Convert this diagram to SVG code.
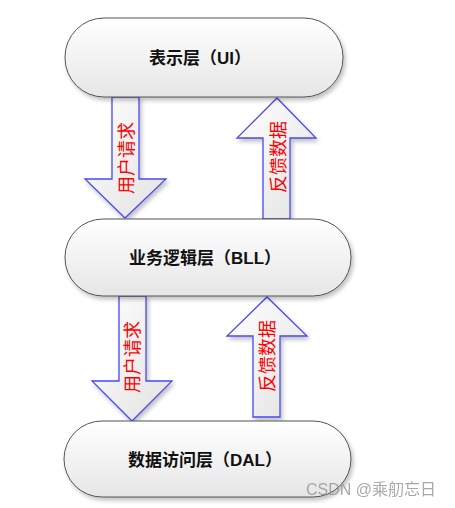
<svg xmlns="http://www.w3.org/2000/svg" width="455" height="508" viewBox="0 0 455 508">
<defs>
<linearGradient id="ng" x1="0" y1="0" x2="0" y2="1"><stop offset="0" stop-color="#ffffff"/><stop offset="1" stop-color="#e6e6e6"/></linearGradient>
<linearGradient id="ag" x1="0" y1="0" x2="1" y2="1"><stop offset="0" stop-color="#ffffff"/><stop offset="1" stop-color="#e2e2e2"/></linearGradient>
<filter id="sh" x="-10%" y="-10%" width="130%" height="130%"><feGaussianBlur in="SourceAlpha" stdDeviation="2"/><feOffset dx="2" dy="3"/><feComponentTransfer><feFuncA type="linear" slope="0.25"/></feComponentTransfer><feMerge><feMergeNode/><feMergeNode in="SourceGraphic"/></feMerge></filter>
</defs>
<style>
.node{fill:url(#ng);stroke:#555;stroke-width:1;filter:url(#sh)}
.nt{font-family:"Liberation Sans","Noto Sans CJK SC",sans-serif;font-size:17px;font-weight:bold;fill:#111;text-anchor:middle;dominant-baseline:central}
.arr{fill:url(#ag);stroke:#4a4af0;stroke-width:1.3;filter:url(#sh)}
.at{font-family:"Noto Sans CJK SC",sans-serif;font-size:18px;fill:#ff0000;text-anchor:middle;dominant-baseline:central}
.wm{font-family:"Liberation Sans","Noto Sans CJK SC",sans-serif;font-size:16px;fill:#999;opacity:0.85}
</style>
<rect width="455" height="508" fill="#fff"/>
<g id="connectors">
<g id="arrow1">
<polygon class="arr" points="112,97 139,97 139,179 166,179 125,218 85,179 112,179"/>
<text class="at" transform="translate(125,158) rotate(-90)">用户请求</text>
</g>
<g id="arrow2">
<polygon class="arr" points="263,219 290,219 290,138 316,138 277,98 237,138 263,138"/>
<text class="at" transform="translate(277,157) rotate(-90)">反馈数据</text>
</g>
<g id="arrow3">
<polygon class="arr" points="119,296 146,296 146,381 172,381 132,421 92,381 119,381"/>
<text class="at" transform="translate(131,357) rotate(-90)">用户请求</text>
</g>
<g id="arrow4">
<polygon class="arr" points="253,417 280,417 280,336 307,336 267,297 227,336 253,336"/>
<text class="at" transform="translate(266,356) rotate(-90)">反馈数据</text>
</g>
</g>
<g id="ui">
<rect class="node" x="65" y="18" width="278" height="79" rx="39" ry="39"/>
<text class="nt" x="200" y="58">表示层（UI）</text>
</g>
<g id="bll">
<rect class="node" x="65" y="219" width="286" height="77" rx="38" ry="38"/>
<text class="nt" x="205" y="258">业务逻辑层（BLL）</text>
</g>
<g id="dal">
<rect class="node" x="64" y="421" width="287" height="76" rx="38" ry="38"/>
<text class="nt" x="205" y="460">数据访问层（DAL）</text>
</g>
<text class="wm" x="306" y="495">CSDN @乘舠忘日</text>
</svg>
